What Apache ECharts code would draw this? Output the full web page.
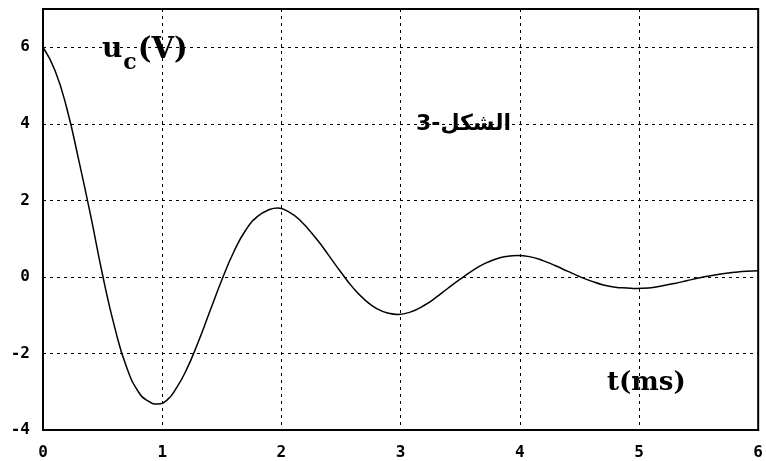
<!DOCTYPE html>
<html>
<head>
<meta charset="utf-8">
<script src="https://cdn.jsdelivr.net/npm/echarts@6/dist/echarts.min.js"></script>
<style>
html,body{margin:0;padding:0;background:#fff;}
#main{width:766px;height:461px;}
</style>
</head>
<body>
<div id="main"></div>
<script>
// t en ms, uc en V
var t_ms = [0,0.1,0.2,0.3,0.4,0.5,0.6,0.7,0.8,0.88,0.96,1.04,1.12,1.2,1.3,1.4,1.5,1.6,1.7,1.8,1.9,1.97,
    2.05,2.15,2.3,2.4,2.5,2.6,2.7,2.8,2.9,2.98,3.08,3.2,3.3,3.4,3.5,3.6,3.7,3.8,3.9,3.98,
    4.08,4.2,4.3,4.4,4.5,4.6,4.7,4.8,4.9,4.98,5.08,5.2,5.3,5.4,5.5,5.6,5.7,5.8,5.9,6.0];
var uc_V = [6.0,5.4,4.4,3.05,1.6,0.05,-1.3,-2.35,-3.0,-3.24,-3.32,-3.22,-2.9,-2.45,-1.72,-0.9,-0.08,0.65,1.22,1.58,1.76,1.8,
    1.72,1.5,0.97,0.55,0.12,-0.28,-0.6,-0.83,-0.95,-0.98,-0.92,-0.74,-0.53,-0.29,-0.06,0.16,0.34,0.47,0.54,0.56,
    0.53,0.42,0.29,0.15,0.01,-0.11,-0.21,-0.27,-0.29,-0.3,-0.29,-0.23,-0.17,-0.1,-0.03,0.03,0.08,0.12,0.15,0.16];
var titre = 'الشكل-3';

var pts = [];
for(i=0;i<t_ms.length;i++){
    pts.push([t_ms[i], uc_V[i]]);
}

var chart = echarts.init(document.getElementById('main'));
var option = {
    backgroundColor: '#fff',
    animation: false,
    grid: {left: 43, right: 7, top: 9, bottom: 31, show: true, borderColor: '#000', borderWidth: 2},
    xAxis: {
        type: 'value', min: 0, max: 6, interval: 1,
        axisLine: {show: true, onZero: false, lineStyle: {color: '#000', width: 2}},
        axisTick: {show: false},
        axisLabel: {color: '#000', fontFamily: 'DejaVu Sans Mono', fontWeight: 'bold', fontSize: 16, margin: 15},
        splitLine: {show: true, lineStyle: {color: '#000', type: [3, 4], width: 1}}
    },
    yAxis: {
        type: 'value', min: -4, max: 7, interval: 2,
        axisLine: {show: true, onZero: false, lineStyle: {color: '#000', width: 2}},
        axisTick: {show: false},
        axisLabel: {
            color: '#000', fontFamily: 'DejaVu Sans Mono', fontWeight: 'bold', fontSize: 16, margin: 13,
            formatter: function(v){ return v > 6 ? '' : String(v); }
        },
        splitLine: {show: true, lineStyle: {color: '#000', type: [3, 4], width: 1}}
    },
    graphic: [
        {
            type: 'text', left: 102, top: 36,
            style: {
                text: '{u|u}{c|c}{v|(V)}',
                rich: {
                    u: {fontFamily: 'DejaVu Serif', fontWeight: 'bold', fontSize: 28, fill: '#000', verticalAlign: 'top'},
                    c: {fontFamily: 'DejaVu Serif', fontWeight: 'bold', fontSize: 22, fill: '#000', padding: [16, 1, 0, 1], verticalAlign: 'top'},
                    v: {fontFamily: 'DejaVu Serif', fontWeight: 'bold', fontSize: 29, fill: '#000', verticalAlign: 'top'}
                }
            }
        },
        {
            type: 'text', left: 607, top: 370,
            style: {text: 't(ms)', fontFamily: 'DejaVu Serif', fontWeight: 'bold', fontSize: 26, fill: '#000'}
        },
        {
            type: 'text', left: 416, top: 113,
            style: {text: titre, fontFamily: 'DejaVu Sans', fontWeight: 'bold', fontSize: 22, fill: '#000'}
        }
    ],
    series: [
        {
            type: 'line',
            data: pts,
            smooth: true,
            showSymbol: false,
            lineStyle: {color: '#000', width: 1.5}
        }
    ]
};
chart.setOption(option);
</script>
</body>
</html>
